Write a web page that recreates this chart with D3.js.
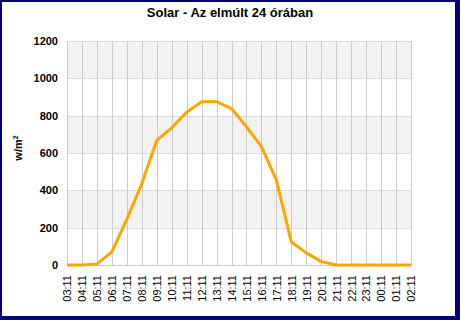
<!DOCTYPE html>
<html>
<head>
<meta charset="utf-8">
<script src="https://cdn.jsdelivr.net/npm/d3@7"></script>
<style>
	body { margin: 0; background: #000080; }
	svg { display: block; }
	text { font-family: "Liberation Sans", Arial, sans-serif; }
</style>
</head>
<body>
<div id="chart"></div>
<script>
const hours = ['03:11', '04:11', '05:11', '06:11', '07:11', '08:11', '09:11', '10:11', '11:11', '12:11', '13:11', '14:11',
	'15:11', '16:11', '17:11', '18:11', '19:11', '20:11', '21:11', '22:11', '23:11', '00:11', '01:11', '02:11'];
const solar = [0, 0, 5, 70, 245, 435, 668, 735, 818, 875, 875, 838,
	740, 634, 455, 123, 65, 18, 0, 0, 0, 0, 0, 0];
const yTicks = [0, 200, 400, 600, 800, 1000, 1200];

const width = 460, height = 320;
const margin = { top: 41, right: 49, bottom: 55, left: 67 };
const innerW = width - margin.left - margin.right;
const innerH = height - margin.top - margin.bottom;

const svg = d3.select('#chart').append('svg').attr('width', width).attr('height', height);

// frame: navy outer, white inner panel
svg.append('rect').attr('width', width).attr('height', height).attr('fill', '#000080');
svg.append('rect').attr('x', 2).attr('y', 2).attr('width', 453).attr('height', 314).attr('fill', '#fff');

svg.append('text')
	.attr('x', 230).attr('y', 17)
	.attr('text-anchor', 'middle')
	.attr('font-size', 13).attr('font-weight', 'bold')
	.text('Solar - Az elmúlt 24 órában');

const g = svg.append('g').attr('transform', `translate(${margin.left}, ${margin.top})`);

const x = d3.scalePoint().domain(hours).range([0, innerW]);
const y = d3.scaleLinear().domain([0, 1200]).range([innerH, 0]);

// alternating bands
const bands = d3.pairs(yTicks).filter((d, i) => i % 2 === 1);
g.selectAll('.band')
	.data(bands)
	.join('rect')
	.attr('class', 'band')
	.attr('x', 0)
	.attr('width', innerW)
	.attr('y', d => y(d[1]))
	.attr('height', d => y(d[0]) - y(d[1]))
	.attr('fill', '#f2f2f2');

// horizontal grid
g.selectAll('.hgrid')
	.data(yTicks)
	.join('line')
	.attr('x1', 0).attr('x2', innerW)
	.attr('y1', d => Math.round(y(d)) + 0.5).attr('y2', d => Math.round(y(d)) + 0.5)
	.attr('stroke', '#dddddd');

// vertical grid
g.selectAll('.vgrid')
	.data(hours)
	.join('line')
	.attr('x1', d => Math.round(x(d)) + 0.5).attr('x2', d => Math.round(x(d)) + 0.5)
	.attr('y1', 0).attr('y2', innerH)
	.attr('stroke', '#cccccc');

// axes
const yAxis = d3.axisLeft(y).tickValues(yTicks).tickFormat(d3.format('d')).tickSize(0).tickPadding(9);
const yAxisG = g.append('g').call(yAxis);
yAxisG.select('.domain').remove();
yAxisG.selectAll('text').attr('font-size', 11).attr('font-weight', 'bold').attr('fill', '#000');

const xAxis = d3.axisBottom(x).tickSize(0).tickPadding(0);
const xAxisG = g.append('g').attr('transform', `translate(0, ${innerH})`).call(xAxis);
xAxisG.select('.domain').remove();
xAxisG.selectAll('text')
	.attr('font-size', 11)
	.attr('fill', '#000')
	.attr('text-anchor', 'end')
	.attr('transform', 'rotate(-90)')
	.attr('x', -10)
	.attr('y', 0)
	.attr('dy', '0.35em');

// baseline
g.append('line')
	.attr('x1', 0).attr('x2', innerW)
	.attr('y1', innerH + 0.5).attr('y2', innerH + 0.5)
	.attr('stroke', '#cccccc');

// y label
g.append('text')
	.attr('transform', 'rotate(-90)')
	.attr('x', -innerH / 2 + 5)
	.attr('y', -45)
	.attr('text-anchor', 'middle')
	.attr('font-size', 11).attr('font-weight', 'bold')
	.html('w/m<tspan font-size="7" dy="-4">2</tspan>');

// line
const line = d3.line()
	.x((d, i) => x(hours[i]))
	.y(d => y(d));

g.append('path')
	.datum(solar)
	.attr('d', line)
	.attr('fill', 'none')
	.attr('stroke', '#ffa500')
	.attr('stroke-width', 3)
	.attr('stroke-linejoin', 'round');
</script>
</body>
</html>
